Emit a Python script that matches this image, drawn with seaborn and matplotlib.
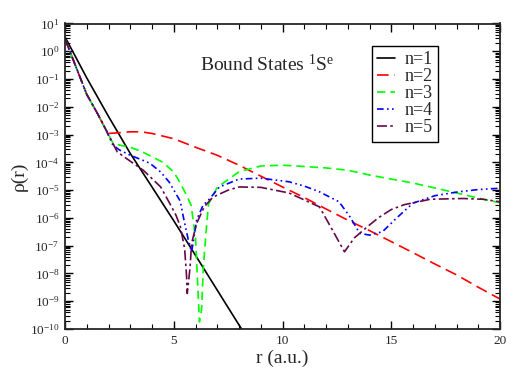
import matplotlib
matplotlib.use("Agg")
import matplotlib.pyplot as plt
import matplotlib.ticker as mticker
import seaborn as sns
import numpy as np
import pandas as pd

# values (r in a.u., rho(r))
r_n1 = [0, 1, 2, 3, 4, 5, 6, 7, 8, 8.2]
rho_n1 = [3.3, 1.1e-1, 4.5e-3, 2.1e-4, 1.3e-5, 7.9e-7, 4.5e-8, 2.5e-9, 1.4e-10, 8e-11]

r_n2 = [0, 0.5, 1, 1.5, 1.9, 2.0, 2.5, 3.0, 3.5, 4, 5, 6, 7, 7.6, 8, 9, 10,
        11, 12, 13, 14, 15, 16, 17, 18, 19, 20]
rho_n2 = [2.8, 2.8e-1, 2.8e-2, 5.6e-3, 1.4e-3, 1.1e-3, 1.17e-3, 1.26e-3, 1.26e-3,
          1.1e-3, 7.1e-4, 3.5e-4, 1.8e-4, 1.1e-4, 7.9e-5, 3.2e-5, 1.3e-5, 5.4e-6,
          2.1e-6, 8.3e-7, 3.5e-7, 1.4e-7, 5.6e-8, 2.2e-8, 8.9e-9, 3.2e-9, 1.2e-9]

r_n3 = [0, 0.5, 1, 1.5, 1.9, 2.2, 2.5, 3, 3.5, 4, 4.5, 5, 5.3, 5.6, 5.8, 6.0,
        6.13, 6.18, 6.28, 6.36, 6.48, 6.6, 7, 7.5, 8, 9, 10, 11, 12, 13, 14, 15,
        16, 17, 18, 19, 20]
rho_n3 = [2.8, 2.8e-1, 2.8e-2, 5.6e-3, 1.4e-3, 5.0e-4, 4.2e-4, 3.5e-4, 2.5e-4,
          1.6e-4, 1.0e-4, 4.5e-5, 1.8e-5, 6.3e-6, 2.8e-6, 2.0e-7, 1.26e-9,
          1.8e-10, 5.0e-10, 1.6e-8, 2.8e-7, 3.2e-6, 1.26e-5, 2.4e-5, 4.6e-5,
          7.4e-5, 7.9e-5, 7.1e-5, 6.3e-5, 5.2e-5, 3.5e-5, 2.5e-5, 1.8e-5,
          1.2e-5, 7.9e-6, 5.2e-6, 3.5e-6]

r_n4 = [0, 0.5, 1, 1.5, 1.9, 2.2, 2.5, 3, 3.5, 3.9, 4.4, 4.8, 5.3, 5.45, 5.67,
        5.82, 5.95, 6.05, 6.35, 6.6, 7.1, 8, 9, 10.3, 11, 11.7, 12.6, 13.1,
        13.55, 14.0, 14.6, 15.25, 16, 17, 18, 19, 20]
rho_n4 = [2.8, 2.8e-1, 2.8e-2, 5.6e-3, 1.4e-3, 4.2e-4, 2.8e-4, 1.8e-4, 1.26e-4,
          9.3e-5, 4.5e-5, 1.9e-5, 4.0e-6, 1.0e-6, 1.6e-7, 6.0e-8, 2.5e-7,
          8.3e-7, 2.9e-6, 4.4e-6, 1.3e-5, 2.5e-5, 2.7e-5, 2.0e-5, 1.4e-5,
          8.7e-6, 3.8e-6, 1.1e-6, 2.8e-7, 2.4e-7, 3.2e-7, 1.0e-6, 3.4e-6,
          6.3e-6, 8.5e-6, 1.05e-5, 1.17e-5]

r_n5 = [0, 0.5, 1, 1.5, 1.9, 2.4, 3, 3.6, 4.4, 4.8, 5.1, 5.3, 5.5, 5.59, 5.62,
        5.68, 5.75, 5.82, 6.05, 6.4, 6.8, 7.5, 8, 9, 10.3, 11.7, 12.3, 12.85,
        13.3, 13.9, 14.4, 15, 15.6, 16.8, 18.3, 19.2, 20]
rho_n5 = [2.8, 2.8e-1, 2.8e-2, 5.6e-3, 1.4e-3, 2.4e-4, 1.1e-4, 5.2e-5, 1.3e-5,
          3.5e-6, 1.26e-6, 5.0e-7, 7.9e-8, 7.9e-9, 1.9e-9, 5.0e-9, 1.7e-8,
          1.2e-7, 6.3e-7, 2.5e-6, 5.6e-6, 1.0e-5, 1.3e-5, 1.26e-5, 7.9e-6,
          2.5e-6, 3.6e-7, 6.0e-8, 1.9e-7, 4.8e-7, 1.0e-6, 2.0e-6, 3.0e-6,
          4.7e-6, 5.0e-6, 4.7e-6, 3.8e-6]

labels = ["n=1", "n=2", "n=3", "n=4", "n=5"]
colors = ["#000000", "#ff0000", "#00ff00", "#0000ff", "#670748"]

frames = []
for lab, r, rho in zip(labels, [r_n1, r_n2, r_n3, r_n4, r_n5],
                       [rho_n1, rho_n2, rho_n3, rho_n4, rho_n5]):
    frames.append(pd.DataFrame({"r": r, "rho": rho, "state": lab}))
df = pd.concat(frames, ignore_index=True)

sns.set_style("ticks")
plt.rcParams["font.family"] = ["Liberation Serif", "DejaVu Serif"]
plt.rcParams["mathtext.fontset"] = "custom"
plt.rcParams["mathtext.rm"] = "Liberation Serif"
plt.rcParams["mathtext.it"] = "Liberation Serif:italic"
plt.rcParams["mathtext.bf"] = "Liberation Serif:bold"

fig = plt.figure(figsize=(5.23, 3.68), dpi=100)
ax = fig.add_axes([65 / 523, 39 / 368, 435 / 523, 305.5 / 368])

dashes = {
    "n=1": "",
    "n=2": (7, 3.5),
    "n=3": (5, 3),
    "n=4": (4, 2, 1, 2, 1, 2),
    "n=5": (6, 2, 1.5, 2),
}
sns.lineplot(data=df, x="r", y="rho", hue="state", style="state",
             palette=dict(zip(labels, colors)), dashes=dashes,
             estimator=None, sort=False, linewidth=1.2, ax=ax)

ax.set_yscale("log")
ax.set_xlim(0, 20)
ax.set_ylim(1e-10, 1e1)
ax.xaxis.set_major_locator(mticker.MultipleLocator(5))
ax.xaxis.set_minor_locator(mticker.MultipleLocator(1))
ax.yaxis.set_major_locator(mticker.LogLocator(base=10, numticks=20))
ax.yaxis.set_minor_locator(mticker.LogLocator(base=10, subs=np.arange(2, 10), numticks=20))
ax.yaxis.set_minor_formatter(mticker.NullFormatter())
ax.tick_params(which="both", direction="in", top=True, right=True, color="black")
ax.tick_params(which="major", length=6, width=1, labelsize=9.5, pad=4)
ax.tick_params(which="minor", length=3.5, width=0.8)
for sp in ax.spines.values():
    sp.set_linewidth(1.3)

ax.set_xlabel("r (a.u.)", fontsize=14, labelpad=2)
ax.set_ylabel("ρ(r)", fontsize=14)
ax.yaxis.set_label_coords(-0.085, 0.5)
ax.text(0.31, 0.865, "Bound States $^{1}$S$^{\\mathrm{e}}$", transform=ax.transAxes,
        fontsize=14, ha="left", va="center")

handles, labs = ax.get_legend_handles_labels()
ax.legend(handles, labs, loc="upper left", bbox_to_anchor=(307 / 435, 0.927),
          fontsize=13, frameon=True, fancybox=False, edgecolor="black",
          framealpha=1, handlelength=1.0, handletextpad=0.5, labelspacing=0.0,
          borderpad=0.3, borderaxespad=0)
ax.get_legend().get_frame().set_linewidth(1.0)

fig.savefig("out.png", dpi=100)
